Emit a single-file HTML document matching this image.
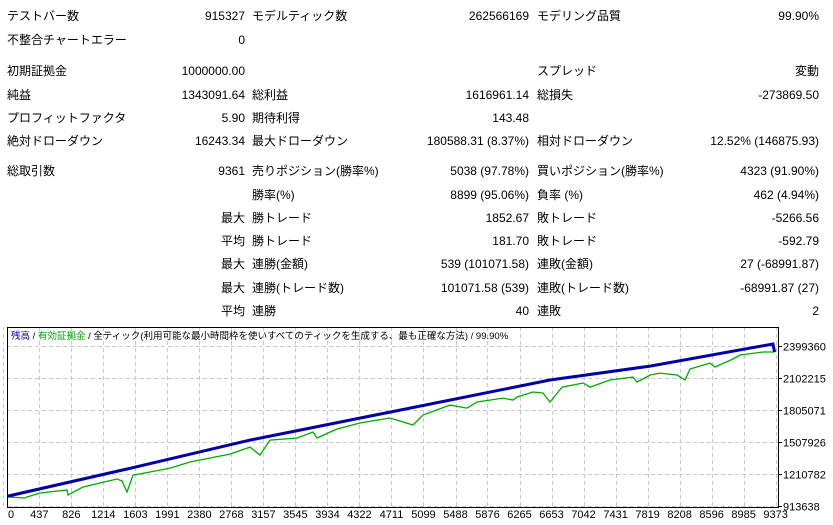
<!DOCTYPE html>
<html><head><meta charset="utf-8">
<style>
body{margin:0;width:833px;height:525px;background:#fff;position:relative;overflow:hidden;font-family:"Liberation Sans","Noto Sans CJK JP",sans-serif;font-size:12px;color:#000}
.t{position:absolute;height:16px;line-height:16px;white-space:nowrap}
.r{text-align:right}
</style></head><body>
<div id="report"></div>
<svg id="chart" width="833" height="525" style="position:absolute;left:0;top:0"></svg>
<script>
// ---- report rows: [centerY, label1, value1, label2, value2, label3, value3, prefix]
const rows = [
 [16,"テストバー数","915327","モデルティック数","262566169","モデリング品質","99.90%"],
 [40,"不整合チャートエラー","0","","","",""],
 [71,"初期証拠金","1000000.00","","","スプレッド","変動"],
 [95,"純益","1343091.64","総利益","1616961.14","総損失","-273869.50"],
 [118,"プロフィットファクタ","5.90","期待利得","143.48","",""],
 [141,"絶対ドローダウン","16243.34","最大ドローダウン","180588.31 (8.37%)","相対ドローダウン","12.52% (146875.93)"],
 [171,"総取引数","9361","売りポジション(勝率%)","5038 (97.78%)","買いポジション(勝率%)","4323 (91.90%)"],
 [195,"","","勝率(%)","8899 (95.06%)","負率 (%)","462 (4.94%)"],
 [218,"","最大","勝トレード","1852.67","敗トレード","-5266.56"],
 [241,"","平均","勝トレード","181.70","敗トレード","-592.79"],
 [264,"","最大","連勝(金額)","539 (101071.58)","連敗(金額)","27 (-68991.87)"],
 [288,"","最大","連勝(トレード数)","101071.58 (539)","連敗(トレード数)","-68991.87 (27)"],
 [311,"","平均","連勝","40","連敗","2"]
];
const rep=document.getElementById('report');
function cell(txt,left,right,top,name){
  if(!txt) return;
  const d=document.createElement('div');
  d.className='t'+(right!==null?' r':'');
  d.textContent=txt;
  d.style.top=top+'px';
  if(right!==null){d.style.right=(833-right)+'px';} else d.style.left=left+'px';
  
  
  rep.appendChild(d);
}
rows.forEach((r,i)=>{
  const top=r[0]-8;
  cell(r[1],7,null,top,'label-'+i+'-a');
  cell(r[2],0,245,top,'value-'+i+'-a');
  cell(r[3],252,null,top,'label-'+i+'-b');
  cell(r[4],0,529,top,'value-'+i+'-b');
  cell(r[5],537,null,top,'label-'+i+'-c');
  cell(r[6],0,819,top,'value-'+i+'-c');
});

// ---- chart data
const xTicks=[0,437,826,1214,1603,1991,2380,2768,3157,3545,3934,4322,4711,5099,5488,5876,6265,6653,7042,7431,7819,8208,8596,8985,9373];
const yTicks=[913638,1210782,1507926,1805071,2102215,2399360];
const balIdx=[57,1501,2994,4693,6635,7849,9340,9361];
const balVal=[1006000,1257000,1526000,1786000,2084000,2213000,2418000,2344000];
const eqIdx=[57,263,288,445,773,785,967,1174,1380,1441,1501,1574,1780,2023,2266,2508,2751,2994,3115,3237,3564,3759,3807,4050,4329,4693,4972,5094,5421,5628,5749,6064,6186,6234,6429,6550,6635,6781,7036,7121,7363,7642,7691,7849,7970,8176,8273,8334,8576,8637,8856,8941,9220,9361];
const eqVal=[997000,988000,997000,1034000,1062000,1016000,1090000,1127000,1164000,1146000,1044000,1201000,1229000,1266000,1322000,1359000,1396000,1461000,1387000,1526000,1545000,1601000,1545000,1629000,1684000,1731000,1666000,1759000,1851000,1823000,1879000,1916000,1898000,1926000,1972000,1963000,1879000,2018000,2056000,2018000,2084000,2111000,2065000,2130000,2148000,2130000,2084000,2186000,2241000,2204000,2279000,2316000,2344000,2344000];

const svg=document.getElementById('chart');
const NS='http://www.w3.org/2000/svg';
const L=7,R=778,T=327,B=507;
const X=i=>3.3+i*0.0824;
const Y=v=>506-(v-913638)/9285.8;
function el(tag,attrs,parent){const e=document.createElementNS(NS,tag);for(const k in attrs)e.setAttribute(k,attrs[k]);(parent||svg).appendChild(e);return e;}

const clip=el('clipPath',{id:'pc'});el('rect',{x:L+1,y:T+1,width:R-L-1,height:B-T-1},clip);

xTicks.forEach(t=>{
  const x=Math.round(X(t))+0.5;
  const g=el('line',{x1:x,x2:x,y1:T,y2:B,stroke:'#c8c8c8','stroke-dasharray':'4,3'});
  
  
  const tx=el('text',{x:Math.max(X(t),8),y:518,'text-anchor':t===0?'start':'middle','font-size':'11',fill:'#000'});
  tx.textContent=t;
  
  
});
yTicks.forEach(v=>{
  const y=Math.round(Y(v))+0.5;
  const g=el('line',{x1:L,x2:R,y1:y,y2:y,stroke:'#c8c8c8','stroke-dasharray':'4,3'});
  
  
  el('line',{x1:R,x2:R+4,y1:y,y2:y,stroke:'#000'});
  const tx=el('text',{x:783,y:y+4,'font-size':'11',fill:'#000'});
  tx.textContent=v;
  
  
});
el('rect',{x:L+0.5,y:T+0.5,width:R-L,height:B-T,fill:'none',stroke:'#000'});

const eq=el('polyline',{points:eqIdx.map((d,i)=>X(d).toFixed(1)+','+Y(eqVal[i]).toFixed(1)).join(' '),fill:'none',stroke:'#00aa00','stroke-width':1.3,'clip-path':'url(#pc)'});


const bal=el('polyline',{points:balIdx.map((d,i)=>X(d).toFixed(1)+','+Y(balVal[i]).toFixed(1)).join(' '),fill:'none',stroke:'#0000a8','stroke-width':3,'clip-path':'url(#pc)'});



const lg=el('text',{x:11,y:339,'font-size':'9.5'});


[["残高","#0000a8"],[" / ","#000"],["有効証拠金","#00a000"],[" / 全ティック(利用可能な最小時間枠を使いすべてのティックを生成する、最も正確な方法) / 99.90%","#000"]].forEach(p=>{const s=el('tspan',{fill:p[1]},lg);s.textContent=p[0];});
</script>
</body></html>
